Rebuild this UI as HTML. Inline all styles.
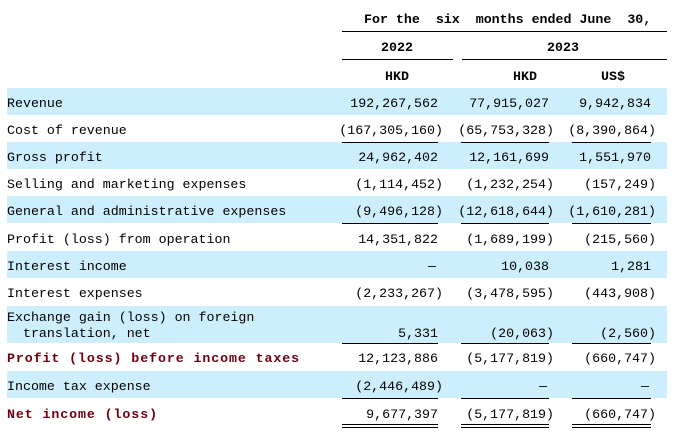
<!DOCTYPE html>
<html><head><meta charset="utf-8"><style>
body{margin:0;width:674px;height:443px;background:#fff;position:relative;overflow:hidden;font-family:"Liberation Mono",monospace;font-size:13.3px;color:#000}
.a{position:absolute;white-space:pre;line-height:16px;z-index:2}
.band{position:absolute;left:7px;width:660px;background:#cdeefc;z-index:0}
.ln{position:absolute;height:1px;background:#000;z-index:3}
.b{font-weight:bold}
.red{color:#6e0010;font-weight:bold;letter-spacing:0.9px}
.r{text-align:right}
</style></head><body>
<div class="a b" style="left:364px;top:12px">For the  six  months ended June  30,</div>
<div class="ln" style="left:342px;width:325px;top:31px"></div>
<div class="a b" style="left:381px;top:40px">2022</div>
<div class="a b" style="left:547px;top:40px">2023</div>
<div class="ln" style="left:342px;width:111px;top:59px"></div>
<div class="ln" style="left:462px;width:205px;top:59px"></div>
<div class="a b" style="left:385px;top:69px">HKD</div>
<div class="a b" style="left:513px;top:69px">HKD</div>
<div class="a b" style="left:601px;top:69px">US$</div>
<div id="t"></div>
<script>
const labels=["Revenue","Cost of revenue","Gross profit","Selling and marketing expenses","General and administrative expenses","Profit (loss) from operation","Interest income","Interest expenses","Exchange gain (loss) on foreign\n  translation, net","Profit (loss) before income taxes","Income tax expense","Net income (loss)"];
const col2022=["192,267,562","(167,305,160)","24,962,402","(1,114,452)","(9,496,128)","14,351,822","—","(2,233,267)","5,331","12,123,886","(2,446,489)","9,677,397"];
const col2023hkd=["77,915,027","(65,753,328)","12,161,699","(1,232,254)","(12,618,644)","(1,689,199)","10,038","(3,478,595)","(20,063)","(5,177,819)","—","(5,177,819)"];
const col2023usd=["9,942,834","(8,390,864)","1,551,970","(157,249)","(1,610,281)","(215,560)","1,281","(443,908)","(2,560)","(660,747)","—","(660,747)"];
const tops=[88,115,142,169,196,224,251,278,306,343,371,398];
const hts=[27,27,27,27,27,27,27,28,37,28,27,30];
const banded=[1,0,1,0,1,0,1,0,1,0,1,0];
const boldRow=[0,0,0,0,0,0,0,0,0,1,0,1];
const ruleAfter=[0,1,0,0,1,0,0,0,1,0,1,2];
const cols=[{v:col2022,r:438,l:342,w:96},{v:col2023hkd,r:549,l:461,w:88},{v:col2023usd,r:651,l:572,w:79}];
const t=document.getElementById('t');
labels.forEach((lab,i)=>{
 const top=tops[i],h=hts[i];
 if(banded[i]){const b=document.createElement('div');b.className='band';
 
 
 b.style.top=top+'px';b.style.height=h+'px';t.appendChild(b);}
 const cy=top+h/2+2;
 const two=lab.includes('\n');
 const L=document.createElement('div');L.className='a'+(boldRow[i]?' red':'');
 
 
 L.textContent=lab;L.style.left='7px';L.style.top=(two?cy-17:cy-8)+'px';t.appendChild(L);
 cols.forEach(c=>{
  const s=c.v[i];const d=document.createElement('div');d.className='a r';
  
  
  const neg=s.startsWith('(');
  d.textContent=s;
  const right=c.r+(neg?5:(s==='—'?-2:0));
  d.style.right=(674-right)+'px';d.style.top=(two?cy-1:cy-8)+'px';
  t.appendChild(d);
  if(ruleAfter[i]){
   const y=top+h;
   const n=ruleAfter[i];
   for(let k=0;k<n;k++){const ln=document.createElement('div');ln.className='ln';
   
   
   ln.style.left=c.l+'px';ln.style.width=c.w+'px';ln.style.top=(n===2?y-4+k*3:y)+'px';t.appendChild(ln);}
  }
 });
});
</script>
</body></html>
